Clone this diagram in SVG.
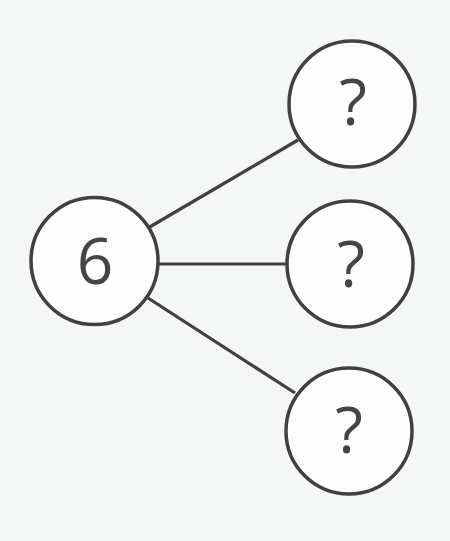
<svg xmlns="http://www.w3.org/2000/svg" width="450" height="541" viewBox="0 0 450 541">
<style>
.n{fill:#fdfdfd;stroke:#404040;stroke-width:3.5}
.c{stroke:#404040;stroke-width:3.2;fill:none}
.t{font-family:"Open Sans","Noto Sans",sans-serif;font-size:64px;font-weight:500;fill:#454545;text-anchor:middle}
</style>
<rect width="450" height="541" fill="#f5f6f6"/>
<g id="connectors">
<line class="c" x1="148" y1="228" x2="298" y2="140"/>
<line class="c" x1="158" y1="264" x2="287" y2="264"/>
<line class="c" x1="148" y1="298" x2="295" y2="393"/>
</g>
<g id="node-6"><circle class="n" cx="94.5" cy="261" r="63.5"/><text class="t" x="95" y="284">6</text></g>
<g id="node-q1"><circle class="n" cx="352" cy="104" r="63"/><text class="t" x="353" y="125">?</text></g>
<g id="node-q2"><circle class="n" cx="350" cy="264" r="63"/><text class="t" x="351" y="287">?</text></g>
<g id="node-q3"><circle class="n" cx="349" cy="431" r="63"/><text class="t" x="349" y="453">?</text></g>
</svg>
